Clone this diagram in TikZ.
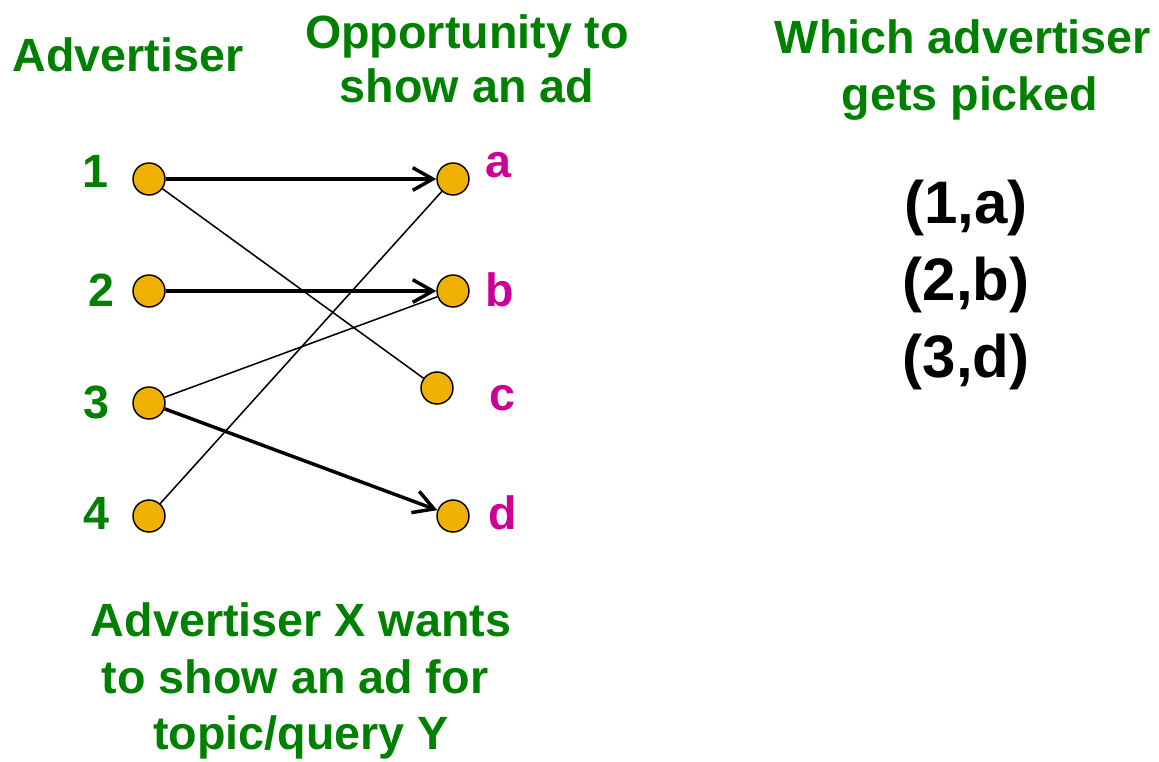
\documentclass[tikz,border=0pt]{standalone}
\usepackage{fontspec}
\setmainfont{Liberation Sans}
\usetikzlibrary{arrows.meta}
\definecolor{lgreen}{RGB}{0,128,0}
\definecolor{lmag}{RGB}{204,0,153}
\definecolor{dotfill}{RGB}{240,176,0}
\tikzset{
  dot/.style={circle,draw=black,line width=1.1pt,fill=dotfill,minimum size=24pt,inner sep=0pt},
  lefttxt/.style={anchor=base,text=lgreen,font=\fontsize{35}{42}\selectfont\bfseries,inner sep=0pt},
  righttxt/.style={anchor=base,text=lmag,font=\fontsize{35}{42}\selectfont\bfseries,inner sep=0pt},
  head/.style={text=lgreen,font=\fontsize{35}{42.75}\selectfont\bfseries,align=center,inner sep=0pt},
  pair/.style={anchor=base,text=black,font=\fontsize{45}{54}\selectfont\bfseries,inner sep=0pt},
  thickarrow/.style={line width=2.6pt,-{Straight Barb[length=15pt,width=17pt,line width=2.6pt]}},
  thinline/.style={line width=1.15pt}
}
\begin{document}
\begin{tikzpicture}[x=0.75pt,y=-0.75pt]
\useasboundingbox (0,0) rectangle (1159,761);
% headings
\node[lefttxt] (hadv) at (128,71) {Advertiser};
\node[head,anchor=base] (hopp1) at (467,48) {Opportunity to};
\node[head,anchor=base] (hopp2) at (467,102) {show an ad};
\node[head,anchor=base] (hwh1) at (963,53) {Which advertiser};
\node[head,anchor=base] (hwh2) at (970,110) {gets picked};
% circles
\node[dot] (n1) at (149,179) {};
\node[dot] (n2) at (149,291) {};
\node[dot] (n3) at (149,403) {};
\node[dot] (n4) at (149,516) {};
\node[dot] (na) at (453,179) {};
\node[dot] (nb) at (453,291) {};
\node[dot] (nc) at (437,388) {};
\node[dot] (nd) at (453,516) {};
% labels
\node[lefttxt] (l1) at (95,187) {1};
\node[lefttxt] (l2) at (101,306) {2};
\node[lefttxt] (l3) at (96,418) {3};
\node[lefttxt] (l4) at (96,529) {4};
\node[righttxt] (la) at (498,177) {a};
\node[righttxt] (lb) at (500,306) {b};
\node[righttxt] (lc) at (502,410) {c};
\node[righttxt] (ld) at (503,529) {d};
% edges
\draw[thinline] (n1) -- (nc);
\draw[thinline] (n4) -- (na);
\draw[thinline] (n3) -- (nb);
\draw[thickarrow] (n1) -- (na);
\draw[thickarrow] (n2) -- (nb);
\draw[thickarrow] (n3) -- (nd);
% pairs
\node[pair] (p1) at (966,223) {(1,a)};
\node[pair] (p2) at (966,300) {(2,b)};
\node[pair] (p3) at (966,377) {(3,d)};
% bottom text
\node[head,anchor=base] (b1) at (301,636) {Advertiser X wants};
\node[head,anchor=base] (b2) at (295,693) {to show an ad for};
\node[head,anchor=base] (b3) at (301,749) {topic/query Y};
\end{tikzpicture}
\end{document}
